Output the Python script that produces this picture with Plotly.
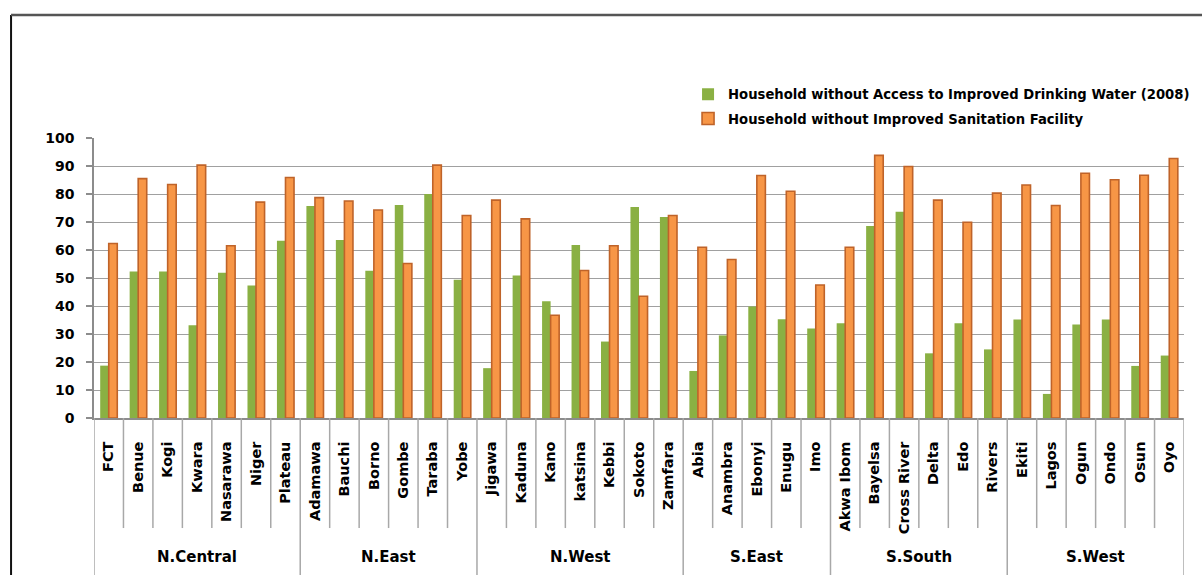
import plotly.graph_objects as go

# Nigerian states grouped by geopolitical zone
zones = ["N.Central", "N.East", "N.West", "S.East", "S.South", "S.West"]
zone_states = [
    ["FCT", "Benue", "Kogi", "Kwara", "Nasarawa", "Niger", "Plateau"],
    ["Adamawa", "Bauchi", "Borno", "Gombe", "Taraba", "Yobe"],
    ["Jigawa", "Kaduna", "Kano", "katsina", "Kebbi", "Sokoto", "Zamfara"],
    ["Abia", "Anambra", "Ebonyi", "Enugu", "Imo"],
    ["Akwa Ibom", "Bayelsa", "Cross River", "Delta", "Edo", "Rivers"],
    ["Ekiti", "Lagos", "Ogun", "Ondo", "Osun", "Oyo"],
]
states = [s for grp in zone_states for s in grp]

# % of households without access to improved drinking water (2008)
no_water = [18.7, 52.3, 52.3, 33.1, 51.9, 47.3, 63.3,
            75.7, 63.6, 52.6, 76.1, 80.0, 49.4,
            17.8, 50.9, 41.7, 61.8, 27.3, 75.4, 71.8,
            16.8, 29.5, 39.8, 35.3, 32.0,
            33.8, 68.6, 73.7, 23.1, 33.8, 24.5,
            35.2, 8.6, 33.4, 35.2, 18.6, 22.3]

# % of households without improved sanitation facility
no_sanitation = [62.3, 85.5, 83.4, 90.3, 61.5, 77.1, 85.9,
                 78.7, 77.5, 74.3, 55.2, 90.3, 72.3,
                 77.8, 71.1, 36.7, 52.7, 61.5, 43.5, 72.3,
                 61.0, 56.6, 86.6, 81.0, 47.5,
                 61.0, 93.8, 89.8, 77.8, 69.9, 80.3,
                 83.2, 75.9, 87.4, 85.1, 86.7, 92.7]

y_ticks = list(range(0, 101, 10))

FONT = "DejaVu Sans"
GREEN = "#8ab043"
ORANGE = "#f79646"
ORANGE_EDGE = "#bf6329"
GRID = "#a0a0a0"
SEP = "#a8a8a8"

fig = go.Figure()
fig.add_trace(go.Bar(
    x=states, y=no_water,
    name="Household without Access to Improved Drinking Water (2008)",
    marker=dict(color=GREEN, line=dict(width=0)),
    legendgroup="water",
))
fig.add_trace(go.Bar(
    x=states, y=no_sanitation,
    name="Household without Improved Sanitation Facility",
    marker=dict(color=ORANGE, line=dict(color=ORANGE_EDGE, width=1.6)),
    legendgroup="sanitation",
))

# Category separators below the axis: short ones between states,
# long ones between zones (including the two outer edges)
shapes = []
zone_edges = [-0.5]
for grp in zone_states:
    zone_edges.append(zone_edges[-1] + len(grp))
for k in range(len(states) + 1):
    edge = k - 0.5
    long_line = any(abs(edge - e) < 1e-9 for e in zone_edges)
    shapes.append(dict(
        type="line", xref="x", yref="paper",
        x0=edge, x1=edge, y0=0, y1=-0.62 if long_line else -0.393,
        line=dict(color=SEP, width=1.5),
    ))

# Outer frame of the chart (left and top edges)
shapes.append(dict(
    type="line", xref="paper", yref="paper",
    x0=-0.0761, x1=-0.0761, y0=-0.7, y1=1.439,
    line=dict(color="#111111", width=2),
))
shapes.append(dict(
    type="line", xref="paper", yref="paper",
    x0=-0.0761, x1=1.1, y0=1.439, y1=1.439,
    line=dict(color="#555555", width=2.5),
))

# Zone labels centred under each group
annotations = []
for zone, lo, hi in zip(zones, zone_edges[:-1], zone_edges[1:]):
    annotations.append(dict(
        x=(lo + hi) / 2, y=-0.496, xref="x", yref="paper",
        text=zone, showarrow=False, xanchor="center", yanchor="middle",
        font=dict(family=FONT, size=15, color="#000000", weight="bold"),
    ))

fig.update_layout(
    width=1202, height=575,
    margin=dict(l=94, r=18, t=138, b=157, autoexpand=False),
    paper_bgcolor="white", plot_bgcolor="white",
    barmode="group", bargap=0.42, bargroupgap=0,
    shapes=shapes, annotations=annotations,
    showlegend=True,
    legend=dict(
        x=0.545, y=1.21, xanchor="left", yanchor="top",
        font=dict(family=FONT, size=13.2, color="#000000", weight="bold"),
        traceorder="grouped", tracegroupgap=4,
        bgcolor="rgba(0,0,0,0)", itemwidth=30,
    ),
    xaxis=dict(
        type="category", range=[-0.5, len(states) - 0.5],
        tickangle=-90, ticks="", showgrid=False,
        showline=True, linecolor="#8c8c8c", linewidth=1.5,
        tickfont=dict(family=FONT, size=14.5, color="#000000", weight="bold"),
        ticklabelstandoff=16,
    ),
    yaxis=dict(
        range=[0, 100], tickvals=y_ticks,
        ticks="outside", ticklen=6, tickcolor="#8c8c8c", tickwidth=1.5,
        showline=True, linecolor="#8c8c8c", linewidth=1.5,
        showgrid=True, gridcolor=GRID, gridwidth=1.2,
        zeroline=False,
        tickfont=dict(family=FONT, size=14, color="#000000", weight="bold"),
        ticklabelstandoff=9,
    ),
)

fig.write_html("out.html")
